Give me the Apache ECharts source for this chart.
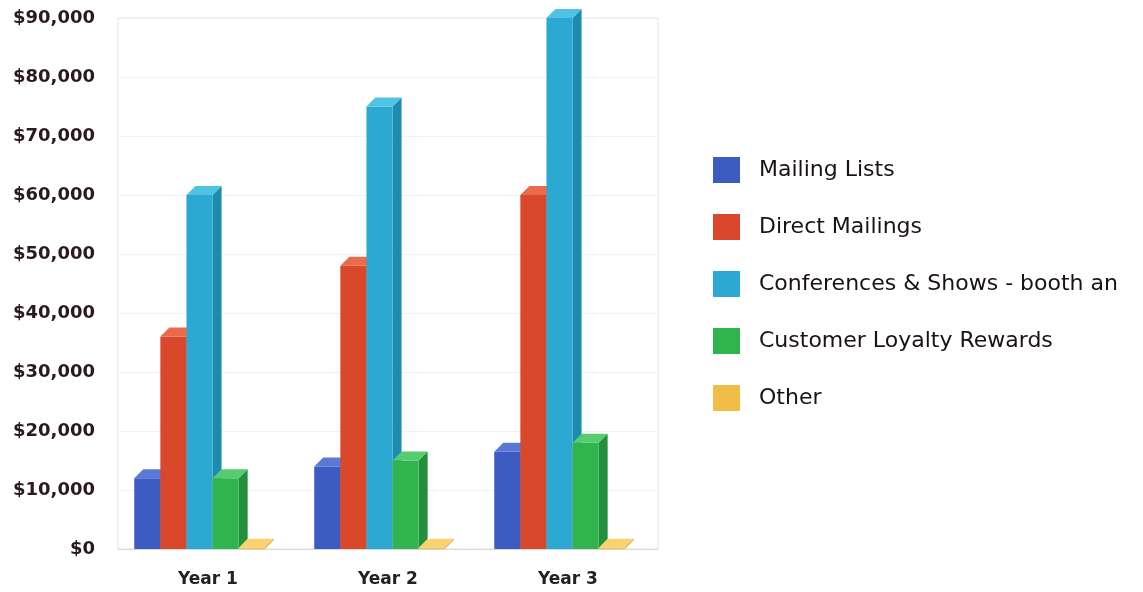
<!DOCTYPE html>
<html>
<head>
<meta charset="utf-8">
<script src="https://cdn.jsdelivr.net/npm/echarts@6/dist/echarts.min.js"></script>
<style>html,body{margin:0;padding:0;background:#fff;}#chart{width:1143px;height:592px;}</style>
</head>
<body>
<div id="chart"></div>
<script>
const categories = ['Year 1', 'Year 2', 'Year 3'];
const seriesNames = ['Mailing Lists', 'Direct Mailings', 'Conferences & Shows - booth an', 'Customer Loyalty Rewards', 'Other'];
const mailingLists = [12000, 14000, 16500];
const directMailings = [36000, 48000, 60000];
const conferences = [60000, 75000, 90000];
const loyaltyRewards = [12000, 15000, 18000];
const other = [200, 200, 200];
const yTicks = [0, 10000, 20000, 30000, 40000, 50000, 60000, 70000, 80000, 90000];

const seriesValues = [mailingLists, directMailings, conferences, loyaltyRewards, other];
const faceColors = [
  { front: '#3d5cc2', side: '#2b4597', top: '#5a78d6' },
  { front: '#d9482b', side: '#ad3820', top: '#e96b4c' },
  { front: '#2ba9d2', side: '#1d8bb0', top: '#50c2e4' },
  { front: '#30b44e', side: '#22903b', top: '#57cb70' },
  { front: '#f2bd47', side: '#d39a2a', top: '#f8d36e' }
];

function makeRender(sIdx) {
  return function (params, api) {
    const cat = api.value(0);
    const val = api.value(1);
    const base = api.coord([cat, 0]);
    const topPt = api.coord([cat, val]);
    const band = api.size([1, 0])[0];
    const bw = band * 0.145;
    const d = 9;
    const groupW = bw * 5;
    const x0 = base[0] - groupW / 2 - d / 2 - 4 + sIdx * bw;
    const x1 = x0 + bw;
    const yb = base[1];
    const yt = topPt[1];
    const c = faceColors[sIdx];
    return {
      type: 'group',
      children: [
        { type: 'polygon', shape: { points: [[x1, yb], [x1 + d, yb - d], [x1 + d, yt - d], [x1, yt]] }, style: { fill: c.side } },
        { type: 'rect', shape: { x: x0, y: yt, width: bw, height: yb - yt }, style: { fill: c.front } },
        { type: 'polygon', shape: { points: [[x0, yt], [x0 + d, yt - d], [x1 + d, yt - d], [x1, yt]] }, style: { fill: c.top } }
      ]
    };
  };
}

const series = seriesNames.map(function (name, i) {
  return {
    name: name,
    type: 'custom',
    renderItem: makeRender(i),
    clip: false,
    itemStyle: { color: faceColors[i].front },
    encode: { x: 0, y: 1 },
    data: seriesValues[i].map(function (v, j) { return [j, v]; })
  };
});

const chart = echarts.init(document.getElementById('chart'), null, { renderer: 'canvas' });
chart.setOption({
  animation: false,
  backgroundColor: '#fff',
  grid: { left: 118, right: 485, top: 18, bottom: 43, show: true, borderColor: '#e4e4e4', borderWidth: 1 },
  legend: {
    orient: 'vertical',
    left: 708,
    top: 152,
    itemWidth: 27,
    itemHeight: 26,
    itemGap: 31,
    icon: 'rect',
    data: seriesNames,
    textStyle: { fontFamily: 'DejaVu Sans', fontSize: 22, color: '#1a1216', padding: [0, 0, 0, 14] }
  },
  xAxis: {
    type: 'category',
    data: categories,
    axisTick: { show: false },
    axisLine: { lineStyle: { color: '#d8d8d8' } },
    axisLabel: { fontFamily: 'DejaVu Sans', fontWeight: 'bold', fontSize: 17, color: '#222', margin: 22 }
  },
  yAxis: {
    type: 'value',
    min: yTicks[0],
    max: yTicks[yTicks.length - 1],
    interval: yTicks[1] - yTicks[0],
    axisLine: { show: false },
    axisTick: { show: false },
    splitLine: { lineStyle: { color: '#f2f2f2' } },
    axisLabel: {
      fontFamily: 'DejaVu Sans', fontWeight: 'bold', fontSize: 18, color: '#2a1a1e', margin: 23,
      formatter: function (v) { return '$' + v.toLocaleString('en-US'); }
    }
  },
  series: series
});
</script>
</body>
</html>
